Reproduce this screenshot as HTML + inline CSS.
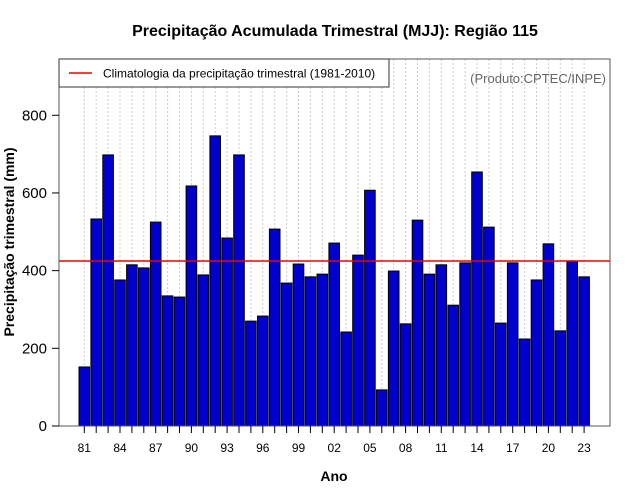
<!DOCTYPE html>
<html><head><meta charset="utf-8"><style>body{margin:0;background:#fff}svg{display:block}</style></head>
<body>
<svg width="640" height="500" xmlns="http://www.w3.org/2000/svg" font-family="Liberation Sans, sans-serif">
<rect width="640" height="500" fill="#fff"/>
<text x="335" y="36" text-anchor="middle" font-size="16" font-weight="bold">Precipitação Acumulada Trimestral (MJJ): Região 115</text>
<g id="grid" stroke="#ccc" stroke-dasharray="2,2" stroke-width="1"></g>
<g id="bars" stroke="#000" stroke-width="1" fill="#0000cc"></g>
<line x1="59" y1="261" x2="610" y2="261" stroke="#e00" stroke-width="1.5"/>
<polyline points="59,426 59,59 610,59 610,426 59,426" fill="none" stroke="#555" stroke-width="1"/>
<rect x="59" y="59" width="330" height="28" fill="#fff" stroke="#333"/>
<line x1="69" y1="73" x2="92" y2="73" stroke="#e00" stroke-width="1.5"/>
<text x="103" y="77.5" font-size="12">Climatologia da precipitação trimestral (1981-2010)</text>
<text x="606" y="83" text-anchor="end" font-size="13" fill="#666">(Produto:CPTEC/INPE)</text>
<g id="yax" font-size="15" text-anchor="end"></g>
<g id="xax" font-size="12" text-anchor="middle"></g>
<text x="334" y="481" text-anchor="middle" font-size="14" font-weight="bold">Ano</text>
<text transform="translate(14,242) rotate(-90)" text-anchor="middle" font-size="14" font-weight="bold">Precipitação trimestral (mm)</text>
<script>
var v=[152,533,698,376,415,407,525,335,332,618,389,747,484,698,270,283,507,368,417,384,391,471,242,440,607,93,399,263,530,391,415,311,420,654,512,265,420,224,376,469,245,425,384];
var ns="http://www.w3.org/2000/svg",g=document.getElementById('grid'),b=document.getElementById('bars'),xa=document.getElementById('xax'),ya=document.getElementById('yax');
function el(t,a,p){var e=document.createElementNS(ns,t);for(var k in a)e.setAttribute(k,a[k]);p.appendChild(e);return e;}
for(var i=0;i<43;i++){var cx=84.3+i*11.9;
el('line',{x1:cx,y1:59,x2:cx,y2:426},g);
var h=v[i]*0.3884;el('rect',{x:cx-5.3,y:426-h,width:10.6,height:h},b);
el('line',{x1:cx,y1:426,x2:cx,y2:433,stroke:'#000'},xa);
if(i%3==0){var t=el('text',{x:cx,y:452},xa);t.textContent=String((81+i)%100).padStart(2,'0');}}
for(var j=0;j<=4;j++){var y=426-j*200*0.3884;el('line',{x1:52,y1:y,x2:59,y2:y,stroke:'#000'},ya);var t=el('text',{x:47,y:y+5},ya);t.textContent=j*200;}
</script>
</svg>
</body></html>
